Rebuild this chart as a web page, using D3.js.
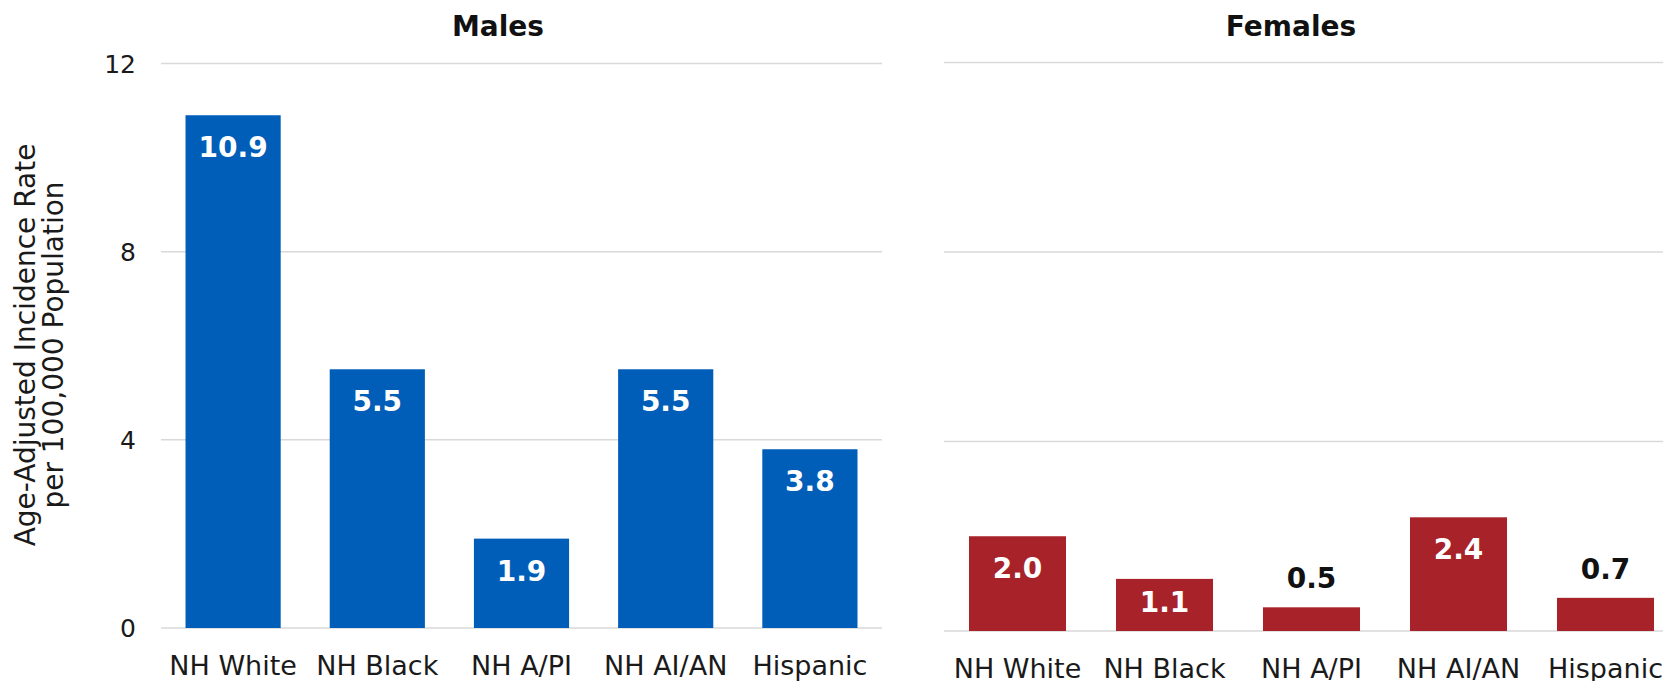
<!DOCTYPE html>
<html>
<head>
<meta charset="utf-8">
<script src="https://cdn.jsdelivr.net/npm/d3@7"></script>
<style>
  body { margin: 0; background: #fff; }
  svg { display: block; font-family: "DejaVu Sans", sans-serif; }
</style>
</head>
<body>
<div id="chart"></div>
<script>
// Data
const categories = ["NH White", "NH Black", "NH A/PI", "NH AI/AN", "Hispanic"];
const malesValues = [10.9, 5.5, 1.9, 5.5, 3.8];
const femalesValues = [2.0, 1.1, 0.5, 2.4, 0.7];
const yTicks = [0, 4, 8, 12];
const panelTitles = ["Males", "Females"];
const yTitleLines = ["Age-Adjusted Incidence Rate", "per 100,000 Population"];

const W = 1663, H = 681;

const svg = d3.select("#chart")
    .append("svg")
    .attr("width", W)
    .attr("height", H);

// Panel layout
const panels = [
    { title: panelTitles[0], values: malesValues, color: "#005EB8",
      x0: 161, x1: 882, gridEnd: 882, y0: 628, y1: 63.5, titleX: 498, labelY: 675 },
    { title: panelTitles[1], values: femalesValues, color: "#A8222A",
      x0: 944, x1: 1679, gridEnd: 1663, y0: 631, y1: 62.5, titleX: 1291, labelY: 678 }
];

panels.forEach((p, pi) => {
    const data = categories.map((c, i) => ({ category: c, value: p.values[i] }));

    const x = d3.scaleBand()
        .domain(categories)
        .range([p.x0, p.x1])
        .paddingInner(0.34)
        .paddingOuter(0.17);

    const y = d3.scaleLinear()
        .domain([0, 12])
        .range([p.y0, p.y1]);

    const g = svg.append("g");

    // Gridlines
    g.selectAll(".grid")
        .data(yTicks)
        .enter().append("line")
        .attr("x1", p.x0)
        .attr("x2", p.gridEnd)
        .attr("y1", d => y(d))
        .attr("y2", d => y(d))
        .attr("stroke", "#d9d9d9")
        .attr("stroke-width", 1.5);

    // Tick labels only on the left panel
    if (pi === 0) {
        g.selectAll(".tick-label")
            .data(yTicks)
            .enter().append("text")
            .attr("x", 136)
            .attr("y", d => y(d) + 9)
            .attr("text-anchor", "end")
            .style("font-size", "25px")
            .style("fill", "#1a1a1a")
            .text(d => d);
    }

    // Bars
    g.selectAll(".bar")
        .data(data)
        .enter().append("rect")
        .attr("x", d => x(d.category))
        .attr("y", d => y(d.value))
        .attr("width", x.bandwidth())
        .attr("height", d => y(0) - y(d.value))
        .attr("fill", p.color);

    // Value labels
    g.selectAll(".val")
        .data(data)
        .enter().append("text")
        .attr("x", d => x(d.category) + x.bandwidth() / 2)
        .attr("y", d => {
            const top = y(d.value), h = y(0) - top;
            if (h < 40) return top - 19;
            return Math.min(top + 42, y(0) - 19);
        })
        .attr("text-anchor", "middle")
        .style("font-size", "28px")
        .style("font-weight", "bold")
        .style("fill", d => (y(0) - y(d.value) < 40) ? "#111" : "#fff")
        .text(d => d.value.toFixed(1));

    // Category labels
    g.selectAll(".cat")
        .data(data)
        .enter().append("text")
        .attr("x", d => x(d.category) + x.bandwidth() / 2)
        .attr("y", p.labelY)
        .attr("text-anchor", "middle")
        .style("font-size", "27px")
        .style("fill", "#1a1a1a")
        .text(d => d.category);

    // Panel title
    g.append("text")
        .attr("x", p.titleX)
        .attr("y", 36)
        .attr("text-anchor", "middle")
        .style("font-size", "28px")
        .style("font-weight", "bold")
        .style("fill", "#111")
        .text(p.title);
});

// Y-axis title
const yTitle = svg.append("text")
    .attr("transform", "translate(0,345) rotate(-90)")
    .attr("text-anchor", "middle")
    .style("font-size", "28px")
    .style("fill", "#1a1a1a");

yTitle.selectAll("tspan")
    .data(yTitleLines)
    .enter().append("tspan")
    .attr("x", 0)
    .attr("y", (d, i) => 35 + i * 28)
    .text(d => d);
</script>
</body>
</html>
